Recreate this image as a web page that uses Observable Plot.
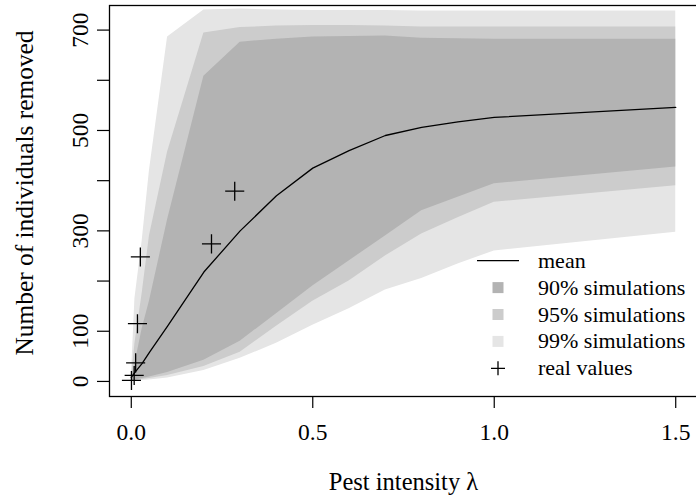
<!DOCTYPE html>
<html><head><meta charset="utf-8">
<script src="https://cdn.jsdelivr.net/npm/d3@7"></script>
<script src="https://cdn.jsdelivr.net/npm/@observablehq/plot@0.6"></script>
<style>body{margin:0;background:#fff}#chart{width:696px;height:495px}</style>
</head><body><div id="chart"></div>
<script>
// ---- data ----
const lambda     = [0, 0.01, 0.03, 0.05, 0.1, 0.2, 0.3, 0.4, 0.5, 0.6, 0.7, 0.8, 0.9, 1.0, 1.5];
const meanValues = [8, 18, 36, 58, 110, 218, 300, 370, 425, 460, 490, 506, 517, 526, 546];
const lower90    = [1, 3, 6, 9, 18, 42, 80, 135, 190, 240, 290, 340, 367, 394, 427];
const upper90    = [2, 35, 105, 160, 322, 608, 676, 682, 686, 687, 688, 684, 683, 682, 682];
const lower95    = [0, 2, 4, 6, 12, 30, 58, 110, 160, 200, 250, 294, 326, 357, 390];
const upper95    = [3, 75, 175, 290, 457, 694, 705, 708, 709, 709, 708, 706, 706, 706, 706];
const lower99    = [0, 1, 2, 3, 7, 22, 46, 76, 112, 145, 182, 205, 234, 260, 297];
const upper99    = [5, 165, 280, 420, 686, 740, 742, 740, 739, 739, 739, 738, 738, 738, 738];
const realLambda  = [0.0005, 0.008, 0.012, 0.017, 0.025, 0.221, 0.285];
const realRemoved = [2, 12, 37, 115, 248, 274, 379];
const xTicks = [0, 0.5, 1.0, 1.5];
const yTicks = [0, 100, 200, 300, 400, 500, 600, 700];
const yTickLabels = [0, 100, 300, 500, 700];
const xTitle = "Pest intensity λ";
const yTitle = "Number of individuals removed";
const legendLabels = ["mean", "90% simulations", "95% simulations", "99% simulations", "real values"];

// ---- tables ----
const sim = lambda.map((x, i) => ({
  x, mean: meanValues[i],
  l90: lower90[i], u90: upper90[i],
  l95: lower95[i], u95: upper95[i],
  l99: lower99[i], u99: upper99[i]
}));
const real = realLambda.map((x, i) => ({x, y: realRemoved[i]}));

const FONT = "'Liberation Serif', 'Times New Roman', serif";
const C90 = "#b3b3b3", C95 = "#cccccc", C99 = "#e5e5e5";

const plot = Plot.plot({
  width: 696, height: 495,
  marginLeft: 109, marginRight: -1, marginTop: 5, marginBottom: 99,
  style: {fontFamily: FONT, fontSize: "23px", background: "#fff", color: "#000"},
  x: {domain: [-0.06, 1.56]},
  y: {domain: [-30, 749]},
  marks: [
    Plot.areaY(sim, {x: "x", y1: "l99", y2: "u99", fill: C99}),
    Plot.areaY(sim, {x: "x", y1: "l95", y2: "u95", fill: C95}),
    Plot.areaY(sim, {x: "x", y1: "l90", y2: "u90", fill: C90}),
    Plot.lineY(sim, {x: "x", y: "mean", stroke: "#000", strokeWidth: 1.3}),
    Plot.dot(real, {x: "x", y: "y", symbol: "plus", r: 6.2, stroke: "#000", strokeWidth: 1.3}),
    Plot.axisX({ticks: xTicks, tickFormat: d => d.toFixed(1), tickSize: 12, tickPadding: 15,
                label: null, strokeWidth: 1.2, fontSize: 23.5}),
    Plot.axisY({ticks: yTicks, tickFormat: () => "", tickSize: 12, label: null, strokeWidth: 1.2}),
    Plot.text(yTickLabels, {y: d => d, text: d => String(d), frameAnchor: "left", dx: -29,
                rotate: -90, textAnchor: "middle", lineAnchor: "middle", fontSize: 23.5}),
    Plot.text([yTitle], {frameAnchor: "left", dx: -85, dy: -8, rotate: -90,
                textAnchor: "middle", lineAnchor: "middle", fontSize: 25.4}),
    Plot.text([xTitle], {frameAnchor: "bottom", dy: 86, textAnchor: "middle",
                lineAnchor: "middle", fontSize: 24.5}),
    Plot.frame({stroke: "#000", strokeWidth: 1.3})
  ]
});

// ---- legend (R-style, inside the panel) ----
const svg = d3.select(plot);
const lg = svg.append("g").attr("font-family", FONT).attr("font-size", 22)
  .attr("text-anchor", "start");
const rowY = i => 260.7 + i * 26.9;
const symX = 498, textX = 538;
legendLabels.forEach((lab, i) => {
  const y = rowY(i);
  if (i === 0) {
    lg.append("line").attr("x1", symX - 21).attr("x2", symX + 21).attr("y1", y).attr("y2", y)
      .attr("stroke", "#000").attr("stroke-width", 1.3);
  } else if (i <= 3) {
    lg.append("rect").attr("x", symX - 5.5).attr("y", y - 5.5).attr("width", 11).attr("height", 11)
      .attr("fill", [C90, C95, C99][i - 1]);
  } else {
    lg.append("path").attr("d", `M${symX - 7},${y}H${symX + 7}M${symX},${y - 7}V${y + 7}`)
      .attr("stroke", "#000").attr("stroke-width", 1.3);
  }
  lg.append("text").attr("x", textX).attr("y", y).attr("dy", "0.32em")
    .attr("text-anchor", "start").text(lab);
});

document.getElementById("chart").appendChild(plot);
</script>
</body></html>
